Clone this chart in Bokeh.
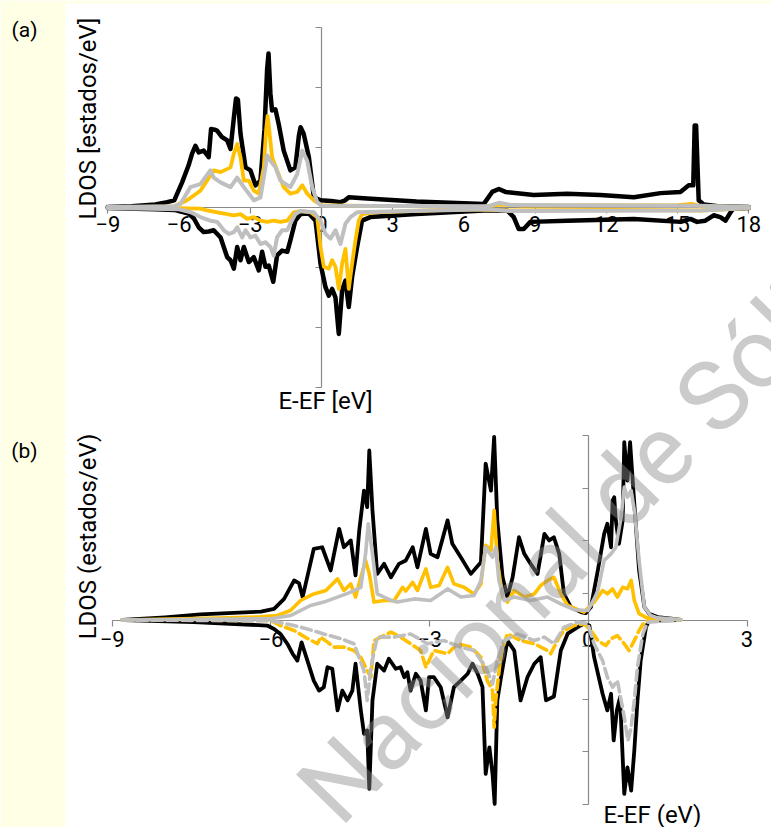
from math import pi
from bokeh.plotting import figure
from bokeh.models import Range1d, LinearAxis, FixedTicker, Label, BoxAnnotation
from bokeh.embed import file_html
from bokeh.resources import INLINE

FONT = "Roboto"
BLACK = "#000000"
GOLD = "#FFC000"
GRAY = "#BFBFBF"
AXIS = "#898989"

# ---------------- panel (a) data: (E-EF, LDOS) ----------------
a_xticks = [-9, -6, -3, 0, 3, 6, 9, 12, 15, 18]
a_yticks = [-3, -2, -1, 0, 1, 2, 3]

a_black_up = [(-9, 0.01), (-8, 0.02), (-7, 0.05), (-6.5, 0.09), (-6.2, 0.12), (-5.87, 0.42), (-5.6, 0.7),
              (-5.45, 0.9), (-5.31, 1.03), (-5.17, 0.92), (-4.96, 0.95), (-4.75, 0.84), (-4.65, 1.31),
              (-4.5, 1.3), (-4.39, 1.28), (-4.2, 1.18), (-3.97, 1.12), (-3.83, 0.98), (-3.69, 1.5),
              (-3.6, 1.82), (-3.52, 1.8), (-3.41, 1.23), (-3.2, 0.67), (-2.99, 0.62), (-2.78, 0.37),
              (-2.57, 0.45), (-2.4, 1.3), (-2.29, 2.3), (-2.23, 2.57), (-2.15, 1.9), (-2.08, 1.62),
              (-1.94, 1.64), (-1.8, 1.39), (-1.59, 0.95), (-1.31, 0.62), (-1.1, 0.67), (-0.95, 1.2),
              (-0.88, 1.34), (-0.75, 1.23), (-0.53, 0.84), (-0.32, 0.17), (-0.04, 0.12), (0.4, 0.11),
              (0.8, 0.09), (1.0, 0.12), (1.15, 0.17), (1.92, 0.15), (4.0, 0.1), (6.84, 0.06), (7.19, 0.26),
              (7.47, 0.31), (7.75, 0.26), (8.94, 0.21), (10.35, 0.23), (11.75, 0.21), (13.16, 0.17),
              (14.28, 0.24), (15.12, 0.26), (15.47, 0.37), (15.66, 0.37), (15.72, 1.37), (15.78, 1.37),
              (15.89, 0.12), (16.1, 0.05), (16.7, 0.02), (18, 0.01)]
a_black_dn = [(-9, -0.01), (-7, -0.03), (-6.2, -0.04), (-5.6, -0.1), (-5.38, -0.18), (-5.17, -0.33),
              (-4.96, -0.41), (-4.75, -0.4), (-4.54, -0.38), (-4.25, -0.5), (-3.97, -0.83), (-3.83, -0.88),
              (-3.69, -1.02), (-3.55, -0.66), (-3.41, -0.88), (-3.27, -0.66), (-3.06, -0.91), (-2.85, -0.83),
              (-2.64, -1.05), (-2.5, -0.74), (-2.36, -0.99), (-2.22, -0.97), (-2.03, -1.24), (-1.87, -0.8),
              (-1.66, -0.72), (-1.44, -0.74), (-1.31, -0.55), (-1.1, -0.22), (-0.88, -0.11), (-0.53, -0.1),
              (-0.25, -0.22), (-0.04, -0.94), (0.17, -1.33), (0.31, -1.47), (0.45, -1.36), (0.59, -1.5),
              (0.73, -2.11), (0.87, -1.38), (1.01, -1.22), (1.15, -1.66), (1.29, -1.16), (1.5, -0.66),
              (1.71, -0.22), (2.06, -0.16), (4.0, -0.11), (6.84, -0.05), (7.82, -0.05), (8.1, -0.16),
              (8.31, -0.36), (8.52, -0.36), (8.8, -0.24), (10.35, -0.22), (13.16, -0.19), (15.12, -0.24),
              (15.54, -0.19), (15.82, -0.24), (16.17, -0.22), (16.52, -0.13), (16.8, -0.16), (17.02, -0.22),
              (17.23, -0.08), (17.35, -0.02), (18, -0.01)]
a_gold_up = [(-9, 0.0), (-6.2, 0.02), (-5.66, 0.12), (-5.1, 0.28), (-4.54, 0.62), (-4.25, 0.59), (-3.83, 0.67),
             (-3.69, 0.9), (-3.55, 1.06), (-3.41, 0.84), (-3.27, 0.45), (-3.06, 0.45), (-2.85, 0.28),
             (-2.64, 0.23), (-2.43, 0.67), (-2.33, 1.3), (-2.27, 1.53), (-2.2, 1.3), (-2.08, 0.84),
             (-1.87, 0.62), (-1.59, 0.34), (-1.31, 0.23), (-1.02, 0.26), (-0.81, 0.37), (-0.6, 0.23),
             (-0.32, 0.12), (0, 0.04), (1, 0.03), (6.8, 0.01), (7.5, 0.05), (8.5, 0.03), (15, 0.04),
             (15.6, 0.06), (16, 0.02), (18, 0.01)]
a_gold_dn = [(-9, 0.0), (-6, -0.01), (-5.1, -0.02), (-4.82, -0.05), (-4.39, -0.08), (-3.97, -0.11),
             (-3.69, -0.13), (-3.41, -0.11), (-3.13, -0.19), (-2.85, -0.16), (-2.57, -0.22), (-2.29, -0.24),
             (-2.01, -0.22), (-1.73, -0.24), (-1.44, -0.22), (-1.17, -0.08), (-0.88, -0.06), (-0.46, -0.08),
             (-0.18, -0.16), (-0.04, -0.66), (0.1, -0.99), (0.31, -1.02), (0.45, -0.88), (0.59, -0.99),
             (0.73, -1.36), (0.87, -0.94), (1.01, -0.69), (1.15, -1.36), (1.29, -0.94), (1.43, -0.55),
             (1.57, -0.22), (1.71, -0.11), (2.2, -0.08), (6, -0.03), (8, -0.05), (12, -0.04), (16, -0.05),
             (17, -0.03), (18, -0.01)]
a_gray_up = [(-9, 0.01), (-6.2, 0.02), (-5.94, 0.06), (-5.52, 0.34), (-5.1, 0.39), (-4.68, 0.62), (-4.54, 0.5),
             (-4.25, 0.42), (-3.83, 0.34), (-3.55, 0.5), (-3.27, 0.34), (-2.85, 0.12), (-2.57, 0.17),
             (-2.36, 0.67), (-2.29, 0.87), (-2.15, 0.78), (-1.94, 0.67), (-1.73, 0.45), (-1.31, 0.34),
             (-1.02, 0.56), (-0.81, 0.95), (-0.6, 0.78), (-0.39, 0.34), (-0.18, 0.09), (0, 0.03), (7, 0.02),
             (7.5, 0.08), (8, 0.04), (16, 0.03), (18, 0.01)]
a_gray_dn = [(-9, -0.01), (-6, -0.03), (-5.5, -0.08), (-5.1, -0.16), (-4.68, -0.22), (-4.39, -0.24),
             (-4.11, -0.38), (-3.9, -0.44), (-3.69, -0.41), (-3.55, -0.33), (-3.34, -0.5), (-3.2, -0.38),
             (-2.99, -0.5), (-2.78, -0.47), (-2.57, -0.61), (-2.36, -0.58), (-2.15, -0.66), (-2.01, -0.8),
             (-1.87, -0.5), (-1.66, -0.38), (-1.44, -0.38), (-1.31, -0.27), (-1.1, -0.11), (-0.88, -0.06),
             (-0.32, -0.08), (-0.04, -0.22), (0.17, -0.44), (0.38, -0.52), (0.59, -0.38), (0.8, -0.61),
             (1.01, -0.27), (1.22, -0.16), (1.5, -0.08), (7, -0.03), (8, -0.06), (16, -0.05), (17, -0.03),
             (18, -0.01)]

# ---------------- panel (b) data ----------------
b_xticks = [-9, -6, -3, 0, 3]
b_yticks = [-7, -5, -3, -1, 1, 3, 5, 7]

b_black_up = [(-8.81, 0.0), (-8, 0.1), (-7.33, 0.21), (-6.6, 0.28), (-6.19, 0.32), (-5.94, 0.42), (-5.75, 0.8),
              (-5.56, 1.5), (-5.47, 1.4), (-5.4, 0.87), (-5.19, 2.7), (-5.03, 2.76), (-4.87, 1.88),
              (-4.71, 3.46), (-4.62, 2.76), (-4.49, 3.02), (-4.4, 1.69), (-4.33, 3.4), (-4.24, 4.91),
              (-4.18, 4.28), (-4.14, 6.43), (-4.08, 4.16), (-3.99, 1.75), (-3.86, 2.13), (-3.73, 1.62),
              (-3.58, 2.13), (-3.45, 2.26), (-3.32, 2.76), (-3.23, 2.0), (-3.07, 3.46), (-2.98, 2.51),
              (-2.85, 2.38), (-2.66, 3.78), (-2.57, 2.89), (-2.41, 2.38), (-2.22, 1.75), (-2.03, 2.19),
              (-1.94, 5.93), (-1.84, 4.91), (-1.78, 6.95), (-1.72, 3.78), (-1.62, 1.62), (-1.53, 0.87),
              (-1.43, 1.62), (-1.31, 3.14), (-1.21, 2.51), (-1.09, 2.13), (-0.96, 1.75), (-0.83, 3.27),
              (-0.74, 3.02), (-0.65, 3.14), (-0.55, 2.51), (-0.46, 0.99), (-0.33, 0.49), (-0.14, 0.3),
              (-0.05, 0.26), (0.05, 0.49), (0.18, 1.88), (0.3, 3.27), (0.36, 3.65), (0.43, 2.76), (0.46, 4.53),
              (0.49, 4.66), (0.52, 3.78), (0.58, 2.89), (0.65, 3.78), (0.68, 6.75), (0.74, 5.29), (0.79, 6.75),
              (0.87, 4.41), (0.96, 1.88), (1.06, 0.49), (1.15, 0.24), (1.31, 0.11), (1.7, 0.02)]
b_black_dn = [(-8.78, 0.0), (-7.46, -0.08), (-6.07, -0.21), (-5.94, -0.34), (-5.82, -0.53), (-5.69, -0.9),
              (-5.59, -1.28), (-5.5, -1.54), (-5.42, -0.85), (-5.31, -1.54), (-5.19, -2.3), (-5.09, -2.68),
              (-5.0, -2.55), (-4.93, -1.79), (-4.84, -1.85), (-4.74, -3.43), (-4.65, -2.68), (-4.55, -3.05),
              (-4.46, -2.68), (-4.4, -1.66), (-4.3, -3.43), (-4.24, -4.32), (-4.18, -4.19), (-4.14, -6.41),
              (-4.08, -3.05), (-3.99, -1.66), (-3.86, -1.92), (-3.77, -1.47), (-3.64, -1.85), (-3.55, -1.79),
              (-3.48, -2.17), (-3.42, -1.98), (-3.36, -2.68), (-3.26, -2.04), (-3.17, -2.3), (-3.07, -3.43),
              (-3.01, -2.17), (-2.92, -2.17), (-2.79, -2.55), (-2.66, -3.69), (-2.54, -2.55), (-2.41, -2.3),
              (-2.28, -2.04), (-2.19, -1.66), (-2.09, -2.04), (-2.0, -2.55), (-1.94, -5.84), (-1.87, -4.83),
              (-1.81, -5.84), (-1.77, -6.98), (-1.72, -3.05), (-1.65, -2.17), (-1.53, -0.78), (-1.4, -1.16),
              (-1.28, -3.05), (-1.15, -2.17), (-1.02, -1.66), (-0.9, -1.41), (-0.8, -3.05), (-0.65, -2.9),
              (-0.52, -1.16), (-0.39, -0.52), (-0.2, -0.27), (-0.08, -0.14), (0.02, -0.21), (0.11, -1.41),
              (0.27, -2.8), (0.36, -3.43), (0.43, -2.8), (0.48, -4.57), (0.54, -3.43), (0.6, -2.93),
              (0.68, -6.6), (0.74, -5.59), (0.81, -6.47), (0.87, -4.95), (0.93, -3.05), (0.99, -1.54),
              (1.09, -0.27), (1.15, -0.02), (1.7, 0.0)]
b_gold_up = [(-8.81, 0.0), (-7, 0.07), (-6.2, 0.12), (-5.88, 0.17), (-5.63, 0.36), (-5.44, 0.74), (-5.19, 0.99),
             (-4.96, 1.12), (-4.74, 1.56), (-4.62, 1.12), (-4.49, 1.37), (-4.4, 0.87), (-4.3, 1.62),
             (-4.21, 2.26), (-4.14, 1.75), (-4.05, 0.68), (-3.86, 0.74), (-3.67, 0.74), (-3.51, 1.24),
             (-3.45, 1.1), (-3.32, 1.43), (-3.23, 1.12), (-3.07, 1.94), (-2.98, 1.24), (-2.82, 1.31),
             (-2.66, 2.0), (-2.54, 1.37), (-2.35, 1.24), (-2.16, 0.99), (-2.03, 1.37), (-1.94, 2.83),
             (-1.84, 2.64), (-1.78, 4.16), (-1.72, 2.26), (-1.62, 0.87), (-1.53, 0.68), (-1.4, 1.12),
             (-1.21, 0.87), (-1.02, 0.99), (-0.9, 1.31), (-0.77, 1.5), (-0.65, 1.62), (-0.52, 0.99),
             (-0.39, 0.55), (-0.2, 0.39), (-0.08, 0.3), (0.11, 0.68), (0.27, 1.12), (0.36, 0.99), (0.46, 1.18),
             (0.55, 0.87), (0.65, 1.24), (0.74, 1.18), (0.81, 1.5), (0.87, 0.74), (0.96, 0.24), (1.09, 0.1),
             (1.4, 0.03), (1.75, 0.02)]
b_gold_dn = [(-8.81, 0.0), (-6, -0.02), (-5.82, -0.21), (-5.56, -0.4), (-5.31, -0.7), (-5.12, -0.9),
             (-5.06, -0.65), (-4.93, -0.84), (-4.81, -1.03), (-4.62, -1.03), (-4.43, -1.16), (-4.3, -1.41),
             (-4.18, -1.92), (-4.11, -2.17), (-4.05, -0.78), (-3.73, -0.46), (-3.55, -0.65), (-3.36, -0.9),
             (-3.17, -1.16), (-3.07, -1.79), (-2.92, -1.16), (-2.66, -1.28), (-2.47, -0.9), (-2.22, -1.03),
             (-2.03, -1.41), (-1.91, -2.3), (-1.81, -2.68), (-1.78, -4.07), (-1.75, -3.05), (-1.65, -1.28),
             (-1.53, -0.52), (-1.28, -0.78), (-1.02, -0.9), (-0.77, -1.16), (-0.71, -1.28), (-0.55, -0.65),
             (-0.46, -0.4), (-0.27, -0.21), (-0.08, -0.14), (0.05, -0.4), (0.18, -0.78), (0.33, -0.97),
             (0.43, -0.71), (0.55, -0.59), (0.68, -0.9), (0.77, -1.16), (0.87, -0.78), (0.96, -0.4),
             (1.06, -0.08), (1.18, 0.0), (1.75, -0.01)]
b_gray_up = [(-8.81, 0.0), (-6, 0.05), (-5.63, 0.17), (-5.25, 0.55), (-5.0, 0.68), (-4.74, 0.87), (-4.49, 1.06),
             (-4.3, 1.24), (-4.21, 2.51), (-4.16, 3.65), (-4.08, 2.51), (-3.99, 0.99), (-3.73, 0.74),
             (-3.61, 0.68), (-3.29, 0.8), (-2.98, 0.74), (-2.66, 1.18), (-2.41, 0.87), (-2.16, 0.93),
             (-2.03, 1.5), (-1.94, 2.76), (-1.81, 2.38), (-1.75, 2.76), (-1.69, 1.5), (-1.59, 0.74),
             (-1.4, 0.87), (-1.09, 0.74), (-0.77, 0.87), (-0.52, 0.61), (-0.27, 0.39), (-0.01, 0.36),
             (0.11, 0.8), (0.18, 1.1), (0.3, 2.26), (0.43, 2.51), (0.52, 2.76), (0.62, 3.9), (0.68, 5.04),
             (0.74, 4.66), (0.81, 4.91), (0.88, 4.03), (0.96, 2.26), (1.06, 0.49), (1.18, 0.17), (1.31, 0.08),
             (1.75, 0.02)]
b_gray_dn = [(-8.81, 0.0), (-6, -0.03), (-5.56, -0.21), (-5.31, -0.34), (-5.0, -0.53), (-4.68, -0.71),
             (-4.43, -0.9), (-4.24, -1.92), (-4.18, -3.05), (-4.11, -1.79), (-3.99, -0.65), (-3.67, -0.65),
             (-3.36, -0.53), (-3.04, -0.9), (-2.73, -0.78), (-2.41, -1.03), (-2.16, -1.16), (-1.94, -1.79),
             (-1.81, -2.42), (-1.72, -1.54), (-1.59, -0.78), (-1.34, -0.53), (-1.02, -0.78), (-0.83, -0.65),
             (-0.65, -0.9), (-0.46, -0.27), (-0.2, -0.08), (-0.01, -0.14), (0.11, -0.9), (0.27, -1.54),
             (0.36, -2.17), (0.46, -2.55), (0.55, -2.3), (0.62, -3.05), (0.68, -3.69), (0.75, -4.57),
             (0.81, -4.07), (0.87, -3.05), (0.93, -1.79), (1.03, -0.53), (1.12, -0.08), (1.75, 0.0)]

# ---------------- layout (canvas pixels, x from left, y from bottom) ----------------
W, H = 771, 827


def rng(v0, p0, v1, p1, total):
    s = (p1 - p0) / (v1 - v0)
    return Range1d(start=v0 - p0 / s, end=v1 + (total - p1) / s)


p = figure(width=W, height=H, x_range=Range1d(0, W), y_range=Range1d(0, H),
           x_axis_location=None, y_axis_location=None, toolbar_location=None,
           output_backend="svg", title=None, min_border=0, outline_line_color=None,
           background_fill_color="white", border_fill_color="white")
p.xgrid.visible = False
p.ygrid.visible = False

p.extra_x_ranges = {"xa": rng(-9, 107.3, 18, 748.3, W), "xb": rng(-9, 111.7, 3, 746.5, W)}
p.extra_y_ranges = {"ya": rng(-3, H - 386.7, 3, H - 27.3, H), "yb": rng(-7, H - 804, 7, H - 435, H)}

# pale side band
p.add_layout(BoxAnnotation(left=0, right=65, bottom=0, top=H, fill_color="#FFFFE6",
                           fill_alpha=1, line_color=None, level="underlay"))
p.add_layout(BoxAnnotation(left=65, right=W, bottom=H - 3, top=H, fill_color="#FFFFE6",
                           fill_alpha=1, line_color=None, level="underlay"))


def add_axes(xr, yr, xb, yb, xt, yt, standoff):
    common = dict(x_range_name=xr, y_range_name=yr, fixed_location=0, level="underlay",
                  axis_line_color=AXIS, axis_line_width=1.2, major_tick_line_color=AXIS,
                  major_tick_line_width=1.2, major_tick_in=0, major_tick_out=6,
                  minor_tick_line_color=None, major_label_text_font=FONT,
                  major_label_text_font_size="22px", major_label_text_color="black")
    xa = LinearAxis(bounds=xb, ticker=FixedTicker(ticks=xt), major_label_standoff=standoff, **common)
    ya = LinearAxis(bounds=yb, ticker=FixedTicker(ticks=yt),
                    major_label_overrides={t: "" for t in yt}, **common)
    p.add_layout(xa, "below")
    p.add_layout(ya, "left")


add_axes("xa", "ya", (-9, 18), (-3, 3), a_xticks, a_yticks, 2)
add_axes("xb", "yb", (-9, 3), (-7, 7), b_xticks, b_yticks, 5)


def curve(pts, xr, yr, color, width, dash="solid"):
    p.line([q[0] for q in pts], [q[1] for q in pts], x_range_name=xr, y_range_name=yr,
           line_color=color, line_width=width, line_dash=dash, line_join="round", line_cap="round")


curve(a_black_up, "xa", "ya", BLACK, 4.5)
curve(a_black_dn, "xa", "ya", BLACK, 4.5)
curve(a_gold_up, "xa", "ya", GOLD, 3.8)
curve(a_gold_dn, "xa", "ya", GOLD, 3.8)
curve(a_gray_up, "xa", "ya", GRAY, 4)
curve(a_gray_dn, "xa", "ya", GRAY, 4)

curve(b_black_up, "xb", "yb", BLACK, 3.8)
curve(b_black_dn, "xb", "yb", BLACK, 3.8)
curve(b_gold_up, "xb", "yb", GOLD, 3.6)
curve(b_gold_dn, "xb", "yb", GOLD, 3.6, "10 5")
curve(b_gray_up, "xb", "yb", GRAY, 3.6)
curve(b_gray_dn, "xb", "yb", GRAY, 3.6, "10 5")


def label(x, y, text, size, angle=0.0, **kw):
    p.add_layout(Label(x=x, y=y, text=text, angle=angle, text_font=FONT, text_font_size=size,
                       text_color="black", text_align="center", text_baseline="middle", **kw))


label(24, H - 29, "(a)", "21px")
label(24, H - 450, "(b)", "21px")
label(87, H - 118, "LDOS [estados/eV]", "24px", angle=pi / 2)
label(87, H - 536, "LDOS (estados/eV)", "24px", angle=pi / 2)
label(325, H - 400, "E-EF [eV]", "24px")
label(652, H - 814, "E-EF (eV)", "24px")

# watermark
p.add_layout(Label(x=316, y=22, text="Nacional de Sólidos", angle=0.80, text_font=FONT,
                   text_font_size="98px", text_color="#8c8c8c", text_alpha=0.45,
                   text_align="left", text_baseline="alphabetic"))

open("out.html", "w").write(file_html(p, INLINE, "LDOS"))
